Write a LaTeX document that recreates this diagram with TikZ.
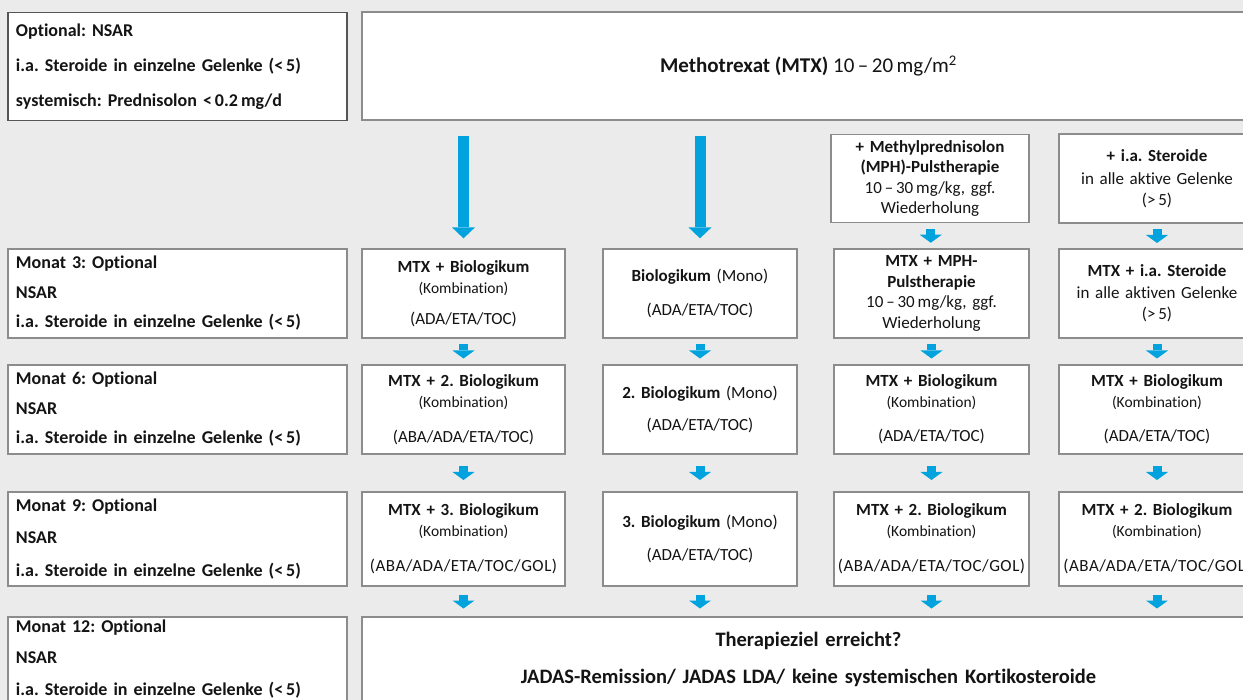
\documentclass[tikz,border=0pt]{standalone}
\usepackage{fontspec}
\setmainfont{Carlito}[Ligatures={NoCommon}]
\usetikzlibrary{arrows.meta,calc}
\definecolor{bg}{RGB}{235,235,235}
\definecolor{bord}{RGB}{140,140,140}
\definecolor{darkbord}{RGB}{85,85,85}
\definecolor{ablue}{RGB}{0,163,222}
\definecolor{txt}{RGB}{20,20,20}
\tikzset{
  box/.style={draw=bord, line width=1.3pt, fill=white, inner sep=0pt, align=center,
    text=txt, font=\fontsize{17}{20.5}\selectfont, minimum height=89pt},
  colbox/.style={box, minimum width=196pt, text width=192pt},
  leftbox/.style={box, align=left, inner xsep=8pt, text width=323pt, minimum width=339pt,
    font=\bfseries\fontsize{18}{29.5}\selectfont},
  sarr/.style={draw=ablue, line width=9pt, -{Triangle[length=8pt,width=22pt,line width=0pt]}},
  barr/.style={draw=ablue, line width=11pt, -{Triangle[length=11pt,width=23pt,line width=0pt]},
    shorten <=15pt, shorten >=10pt},
}
\newcommand{\kombi}{{\fontsize{15.5}{20}\selectfont(Kombination)}}
\newcommand{\gol}{{\addfontfeatures{LetterSpace=3}(ABA/ADA/ETA/TOC/GOL)}}
\newcommand{\sarrow}[2]{\draw[sarr] ($(#1)!0.5!(#2)+(0,-7)$) -- ($(#1)!0.5!(#2)+(0,7)$);}
\begin{document}
\frenchspacing
\begin{tikzpicture}[x=1pt,y=-1pt]
\useasboundingbox (0,0) rectangle (1243,700);
\clip (0,0) rectangle (1243,700);
\fill[bg] (0,0) rectangle (1243,700);

% top row
\node[leftbox, draw=darkbord, minimum height=108pt, font=\bfseries\fontsize{18}{35}\selectfont] (tl) at (177.5,66.5)
  {Optional: NSAR\\i.a. Steroide in einzelne Gelenke (<\,5)\\systemisch: Prednisolon <\,0.2\,mg/d};
\node[box, minimum width=893pt, minimum height=108pt, font=\fontsize{21}{24}\selectfont] (top) at (808.5,66)
  {{\bfseries Methotrexat (MTX)} 10\,–\,20\,mg/m\textsuperscript{2}};

% header boxes col 3/4
\node[colbox, minimum width=198pt, minimum height=88pt] (c3h) at (930,178.5)
  {{\bfseries + Methylprednisolon\\(MPH)-Pulstherapie}\\10\,–\,30\,mg/kg, ggf.\\Wiederholung};
\node[colbox, minimum height=89pt] (c4h) at (1157,178.5)
  {{\bfseries + i.a. Steroide}\\[3pt]in alle aktive Gelenke\\(>\,5)};

% row 1 (Monat 3)
\node[leftbox] (l1) at (177.5,293.5) {Monat 3: Optional\\NSAR\\i.a. Steroide in einzelne Gelenke (<\,5)};
\node[colbox, minimum width=203pt, text width=199pt] (c1r1) at (463.5,293.5) {{\bfseries MTX + Biologikum}\\\kombi\\[10.5pt](ADA/ETA/TOC)};
\node[colbox, minimum width=194pt, text width=190pt] (c2r1) at (700,293.5) {{\bfseries Biologikum} (Mono)\\[13.5pt](ADA/ETA/TOC)};
\node[colbox, minimum width=195pt] (c3r1) at (931.5,293.5) {{\bfseries MTX + MPH-\\Pulstherapie}\\10\,–\,30\,mg/kg, ggf.\\Wiederholung};
\node[colbox, font=\fontsize{17}{21.5}\selectfont] (c4r1) at (1157,293.5) {{\bfseries MTX + i.a. Steroide}\\in alle aktiven Gelenke\\(>\,5)};

% row 2 (Monat 6)
\node[leftbox] (l2) at (177.5,409.5) {Monat 6: Optional\\NSAR\\i.a. Steroide in einzelne Gelenke (<\,5)};
\node[colbox, minimum width=203pt, text width=199pt] (c1r2) at (463.5,409.5) {{\bfseries MTX + 2. Biologikum}\\\kombi\\[14.5pt](ABA/ADA/ETA/TOC)};
\node[colbox, minimum width=194pt, text width=190pt] (c2r2) at (700,409.5) {{\bfseries 2. Biologikum} (Mono)\\[11pt](ADA/ETA/TOC)};
\node[colbox, minimum width=195pt] (c3r2) at (931.5,409.5) {{\bfseries MTX + Biologikum}\\\kombi\\[14pt](ADA/ETA/TOC)};
\node[colbox] (c4r2) at (1157,409.5) {{\bfseries MTX + Biologikum}\\\kombi\\[14pt](ADA/ETA/TOC)};

% row 3 (Monat 9)
\node[leftbox, minimum height=94pt, font=\bfseries\fontsize{18}{32.5}\selectfont] (l3) at (177.5,539) {Monat 9: Optional\\NSAR\\i.a. Steroide in einzelne Gelenke (<\,5)};
\node[colbox, minimum width=203pt, text width=199pt, minimum height=94pt] (c1r3) at (463.5,539) {{\bfseries MTX + 3. Biologikum}\\\kombi\\[15pt]\gol};
\node[colbox, minimum width=194pt, text width=190pt, minimum height=94pt] (c2r3) at (700,539) {{\bfseries 3. Biologikum} (Mono)\\[12.5pt](ADA/ETA/TOC)};
\node[colbox, minimum width=195pt, minimum height=94pt] (c3r3) at (931.5,539) {{\bfseries MTX + 2. Biologikum}\\\kombi\\[15pt]\gol};
\node[colbox, minimum height=94pt] (c4r3) at (1157,539) {{\bfseries MTX + 2. Biologikum}\\\kombi\\[15pt]\gol};

% row 4 (Monat 12)
\node[leftbox, minimum height=84pt, font=\bfseries\fontsize{18}{31.5}\selectfont] (l4) at (177.5,659) {Monat 12: Optional\\NSAR\\i.a. Steroide in einzelne Gelenke (<\,5)};
\node[box, minimum width=893pt, minimum height=84pt, text width=880pt, font=\bfseries\fontsize{20.5}{24}\selectfont] (goal) at (808.5,659)
  {Therapieziel erreicht?\\[13pt]JADAS-Remission/ JADAS LDA/ keine systemischen Kortikosteroide};

% arrows
\draw[barr] (top.south -| c1r1.north) -- (c1r1.north);
\draw[barr] (top.south -| c2r1.north) -- (c2r1.north);
\sarrow{c3h.south}{c3r1.north}
\sarrow{c4h.south}{c4r1.north}
\foreach \c in {c1,c2,c3,c4}{
  \sarrow{\c r1.south}{\c r2.north}
  \sarrow{\c r2.south}{\c r3.north}
  \sarrow{\c r3.south}{\c r3.south |- goal.north}
}
\end{tikzpicture}
\end{document}
